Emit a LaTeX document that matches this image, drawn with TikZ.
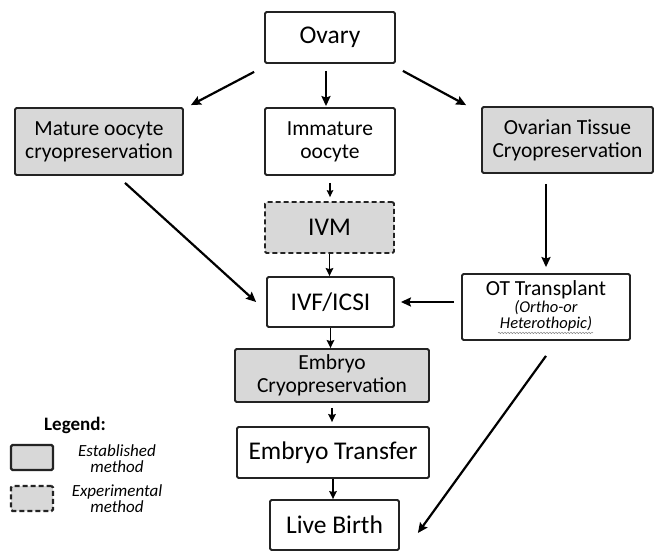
\documentclass[tikz,border=0pt]{standalone}
\usepackage{fontspec}
\setmainfont{Carlito}
\usetikzlibrary{arrows.meta,decorations.pathmorphing}
\definecolor{boxgray}{RGB}{216,216,216}
\definecolor{edge}{RGB}{35,35,35}
\begin{document}
\begin{tikzpicture}[x=1pt,y=-1pt,
  box/.style={draw=edge, line width=1.8pt, rounded corners=1.5pt, align=center, inner sep=0pt, fill=white},
  est/.style={box, fill=boxgray},
  expm/.style={box, fill=boxgray, dash pattern=on 5pt off 3pt},
  arr/.style={line width=2.2pt, -{Stealth[length=10pt,width=9pt,inset=1.5pt]}},
  sarr/.style={line width=1.8pt, -{Stealth[length=8pt,width=7.5pt,inset=1pt]}},
  tarr/.style={line width=1.2pt, -{Stealth[length=7pt,width=6.5pt,inset=1pt]}},
  big/.style={font=\fontsize{25.5}{28}\selectfont},
  mid/.style={font=\fontsize{21.5}{23}\selectfont},
  legtxt/.style={font=\fontsize{17}{16}\selectfont\itshape, align=center},
]
\useasboundingbox (0,0) rectangle (662,552);

\node[box,big,minimum width=130pt,minimum height=51pt] (ovary) at (330,37.5) {Ovary};
\node[est,mid,minimum width=168pt,minimum height=67pt] (mature) at (99,141.5) {Mature oocyte\\cryopreservation};
\node[box,mid,minimum width=130pt,minimum height=67pt] (immature) at (330,141.5) {Immature\\oocyte};
\node[est,mid,minimum width=171pt,minimum height=66pt] (ovarian) at (567.5,140) {Ovarian Tissue\\Cryopreservation};
\node[expm,big,minimum width=129pt,minimum height=51pt] (ivm) at (329.5,227.5) {IVM};
\node[box,big,minimum width=127pt,minimum height=50pt] (ivf) at (330.5,302) {IVF/ICSI};
\node[box,minimum width=168pt,minimum height=66pt,font=\fontsize{16.5}{16}\selectfont] (ot) at (546,307)
  {\begin{tabular}{@{}c@{}}\fontsize{21.5}{23}\selectfont OT Transplant\\
   \itshape (Ortho-or\\
   \itshape Heterothopic)\end{tabular}};
\node[est,mid,minimum width=194pt,minimum height=53pt] (cryo) at (332,375.5) {Embryo\\Cryopreservation};
\node[box,big,minimum width=192pt,minimum height=51pt] (transfer) at (333,452.5) {Embryo Transfer};
\node[box,big,minimum width=129pt,minimum height=50pt] (birth) at (334.5,525) {Live Birth};

% legend
\node[font=\fontsize{19}{21}\selectfont\bfseries] (legend) at (75,425) {Legend:};
\node[est, line width=2.2pt, minimum width=42pt, minimum height=25pt] (lest) at (32,457.5) {};
\node[expm, line width=2.2pt, minimum width=42pt, minimum height=25pt] (lexp) at (32,498.5) {};
\node[legtxt] (test) at (117,459) {Established\\method};
\node[legtxt] (texp) at (117,499) {Experimental\\method};

% connectors
\draw[arr] ([xshift=-10pt,yshift=-8pt]ovary.south west) -- ([xshift=7pt,yshift=2pt]mature.north east);
\draw[arr] ([xshift=7pt,yshift=-7pt]ovary.south east) -- ([xshift=-15pt,yshift=1pt]ovarian.north west);
\draw[arr] ([xshift=-4pt,yshift=-7pt]ovary.south) -- ([xshift=-4pt,yshift=1pt]immature.north);
\draw[arr] ([xshift=26pt,yshift=-7pt]mature.south) -- ([xshift=-10pt]ivf.west);
\draw[arr] ([yshift=-10pt]ot.north |- ovarian.south) -- ([yshift=6pt]ot.north);
\draw[arr] ([xshift=-7pt]ot.west |- ivf.east) -- ([xshift=6pt]ivf.east);
\draw[arr] ([yshift=-15pt]ot.south) -- ([xshift=18pt,yshift=-8pt]birth.east);

\draw[tarr] ([yshift=-7pt]immature.south) -- ([yshift=4pt]immature.south |- ivm.north);
\draw[sarr] (ivm.south) -- (ivm.south |- ivf.north);
\draw[sarr] (ivf.south) -- (ivf.south |- cryo.north);
\draw[sarr] ([yshift=-5pt]cryo.south) -- ([yshift=4pt]cryo.south |- transfer.north);
\draw[sarr] (transfer.south) -- (transfer.south |- birth.north);

% spell-check wavy underline
\draw[gray, line width=0.5pt, decorate, decoration={snake,amplitude=0.7pt,segment length=3pt}]
  ([xshift=-48pt,yshift=8pt]ot.south) -- ([xshift=47pt,yshift=8pt]ot.south);
\end{tikzpicture}
\end{document}
